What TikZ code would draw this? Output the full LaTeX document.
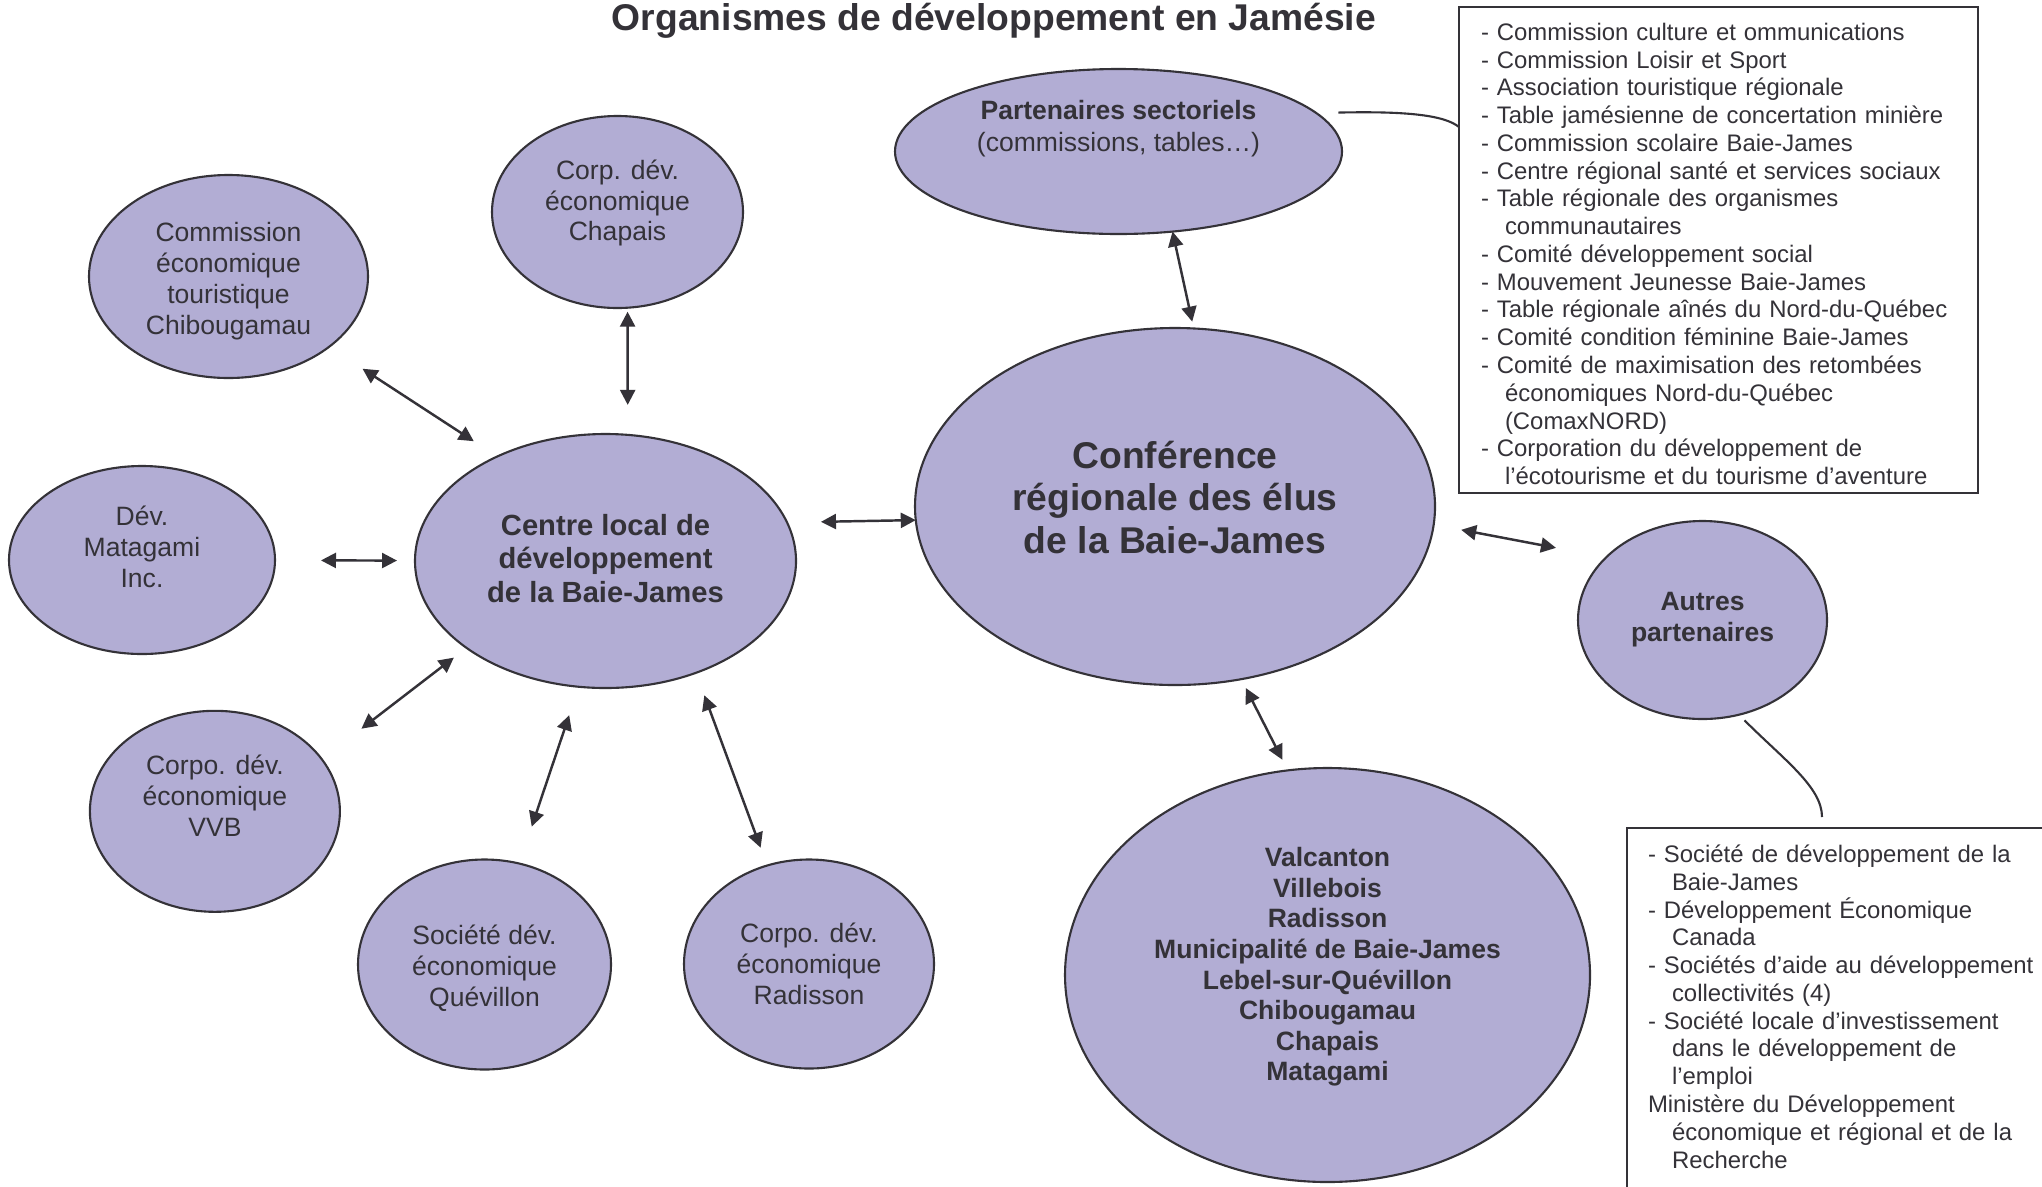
\documentclass[tikz,border=0pt]{standalone}
\usepackage{fontspec}
\setmainfont{Liberation Sans}
\usepackage{tikz}
\usetikzlibrary{shapes.geometric, arrows.meta}
\definecolor{bubblefill}{RGB}{178,173,212}
\definecolor{inkgray}{RGB}{52,50,56}
\tikzstyle{bubble} = [ellipse, draw=inkgray, fill=bubblefill, line width=0.6pt, inner sep=0pt, outer sep=0pt]
\tikzstyle{bubtext} = [align=center, text=inkgray, inner sep=0pt, font=\fontsize{7.55}{8.8}\selectfont]
\tikzstyle{bubbold} = [bubtext, font=\fontsize{7.55}{8.8}\selectfont\bfseries]
\tikzstyle{listbox} = [anchor=north west, align=left, text=inkgray, inner xsep=0.22cm, inner ysep=0.16cm, outer sep=0pt, font=\fontsize{6.8}{7.9}\selectfont]
\tikzstyle{biarrow} = [line width=0.7pt, draw=inkgray, <->, >={Triangle[length=0.15cm, width=0.15cm]}]
\tikzstyle{link} = [line width=0.6pt, draw=inkgray]
\newcommand{\cont}{\hspace*{0.24cm}}

\begin{document}
\begin{tikzpicture}
\fill[white] (0,0) rectangle (20.42,-11.86);
\clip (0,0) rectangle (20.42,-11.86);

\node (title) [bubbold, font=\fontsize{10.6}{12.2}\selectfont\bfseries] at (9.94,-0.205) {Organismes de développement en Jamésie};

% left side
\node (chib) [bubble, minimum width=2.79cm, minimum height=2.03cm] at (2.285,-2.765) {};
\node (chibtxt) [bubtext] at ([yshift=-0.05cm]chib) {Commission\\économique\\touristique\\Chibougamau};
\node (chapais) [bubble, minimum width=2.51cm, minimum height=1.92cm] at (6.175,-2.12) {};
\node (chapaistxt) [bubtext] at ([yshift=0.09cm]chapais) {Corp. dév.\\économique\\Chapais};
\node (matagami) [bubble, minimum width=2.66cm, minimum height=1.88cm] at (1.42,-5.60) {};
\node (matagamitxt) [bubtext] at ([yshift=0.13cm]matagami) {Dév.\\Matagami\\Inc.};
\node (clocal) [bubble, minimum width=3.81cm, minimum height=2.54cm] at (6.055,-5.61) {};
\node (clocaltxt) [bubbold, font=\fontsize{8.3}{9.6}\selectfont\bfseries] at ([yshift=0.025cm]clocal) {Centre local de\\développement\\de la Baie-James};
\node (vvb) [bubble, minimum width=2.50cm, minimum height=2.01cm] at (2.149,-8.113) {};
\node (vvbtxt) [bubtext] at ([yshift=0.155cm]vvb) {Corpo. dév.\\économique\\VVB};
\node (quevillon) [bubble, minimum width=2.53cm, minimum height=2.10cm] at (4.845,-9.645) {};
\node (quevillontxt) [bubtext] at ([yshift=-0.04cm]quevillon) {Société dév.\\économique\\Quévillon};
\node (radisson) [bubble, minimum width=2.50cm, minimum height=2.09cm] at (8.09,-9.64) {};
\node (radissontxt) [bubtext] at (radisson) {Corpo. dév.\\économique\\Radisson};

% right side
\node (partn) [bubble, minimum width=4.47cm, minimum height=1.65cm] at (11.185,-1.515) {};
\node (partntxt) [bubtext, font=\fontsize{7.55}{9.1}\selectfont] at ([yshift=0.23cm]partn) {\textbf{Partenaires sectoriels}\\(commissions, tables…)};
\node (crebj) [bubble, minimum width=5.20cm, minimum height=3.57cm] at (11.75,-5.065) {};
\node (crebjtxt) [bubbold, font=\fontsize{10.6}{12.2}\selectfont\bfseries] at ([yshift=0.09cm]crebj) {Conférence\\régionale des élus\\de la Baie-James};
\node (autres) [bubble, minimum width=2.49cm, minimum height=1.98cm] at (17.025,-6.20) {};
\node (autrestxt) [bubbold] at (autres) {Autres\\partenaires};
\node (villes) [bubble, minimum width=5.25cm, minimum height=4.14cm] at (13.275,-9.75) {};
\node (villestxt) [bubbold, font=\fontsize{7.55}{8.7}\selectfont\bfseries] at ([yshift=0.08cm]villes) {Valcanton\\Villebois\\Radisson\\Municipalité de Baie-James\\Lebel-sur-Quévillon\\Chibougamau\\Chapais\\Matagami};

% lists
\node (sectlist) [listbox, text width=4.75cm] at (14.59,-0.07) {- Commission culture et ommunications\\- Commission Loisir et Sport\\- Association touristique régionale\\- Table jamésienne de concertation minière\\- Commission scolaire Baie-James\\- Centre régional santé et services sociaux\\- Table régionale des organismes\\\cont communautaires\\- Comité développement social\\- Mouvement Jeunesse Baie-James\\- Table régionale aînés du Nord-du-Québec\\- Comité condition féminine Baie-James\\- Comité de maximisation des retombées\\\cont économiques Nord-du-Québec\\\cont (ComaxNORD)\\- Corporation du développement de\\\cont l’écotourisme et du tourisme d’aventure};
\draw[link] (sectlist.north west) rectangle ([yshift=0.08cm]sectlist.south east);
\node (autlist) [listbox, inner xsep=0.21cm, inner ysep=0.17cm, text width=4.0cm] at (16.27,-8.28) {- Société de développement de la\\\cont Baie-James\\- Développement Économique\\\cont Canada\\- Sociétés d’aide au développement\\\cont collectivités (4)\\- Société locale d’investissement\\\cont dans le développement de\\\cont l’emploi\\Ministère du Développement\\\cont économique et régional et de la\\\cont Recherche};
\draw[link] ([xshift=4.5cm]autlist.north west) -- (autlist.north west) -- ([yshift=-4cm]autlist.north west);

\draw [biarrow, shorten <=0.46cm, shorten >=0.18cm] (matagami) -- (clocal);
\draw [biarrow, shorten <=0.4cm, shorten >=0.28cm] (chib.-35) -- (clocal.136);
\draw [biarrow, shorten <=0.04cm, shorten >=0.3cm] (chapais.-84) -- (clocal.80);
\draw [biarrow, shorten <=0.5cm, shorten >=0.16cm] (vvb.26) -- (clocal.-148);
\draw [biarrow, shorten <=0.39cm, shorten >=0.3cm] (quevillon.71) -- (clocal.-102);
\draw [biarrow, shorten <=0.24cm, shorten >=0.19cm] (clocal.-51) -- (radisson.113);
\draw [biarrow, shorten <=0.34cm] (clocal.12) -- (crebj.-177);
\draw [biarrow, shorten >=0.07cm] (partn.-56) -- (crebj.84);
\draw [biarrow, shorten <=0.28cm, shorten >=0.51cm] (crebj.-4) -- (autres.147);
\draw [biarrow, shorten <=0.1cm, shorten >=0.12cm] (crebj.-69) -- (villes.101);

\draw [link, shorten <=0.22cm] (partn.11) .. controls +(0.9,0.02) and +(-0.15,0.12) .. ([yshift=-1.2cm]sectlist.north west);
\draw [link, shorten <=0.08cm] (autres.-69) .. controls +(0.45,-0.45) and +(0,0.3) .. ([xshift=1.95cm, yshift=0.11cm]autlist.north west);

\end{tikzpicture}
\end{document}
